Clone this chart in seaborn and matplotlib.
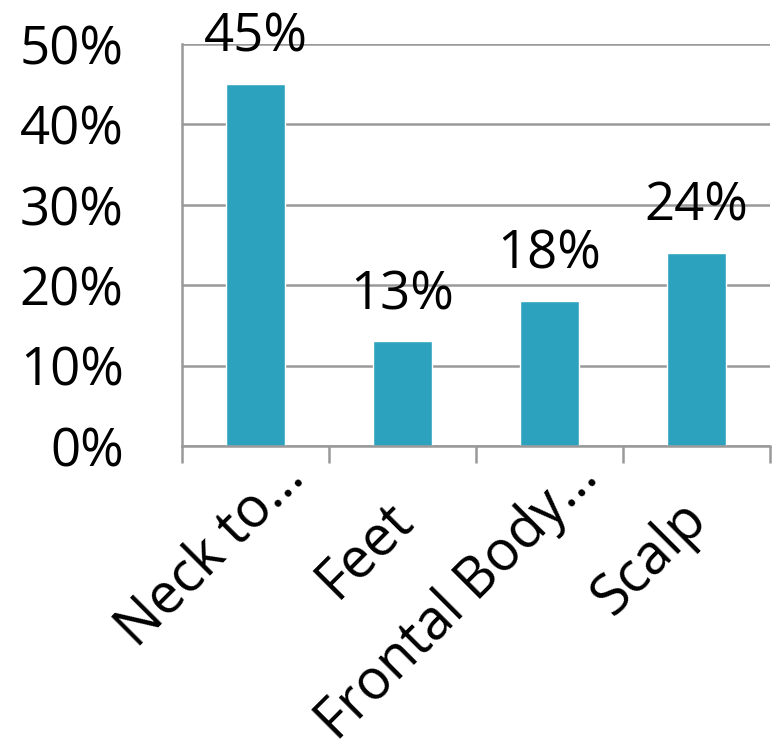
import matplotlib
matplotlib.use("Agg")
import matplotlib.pyplot as plt
import matplotlib.transforms as mtransforms
import pandas as pd
import seaborn as sns

# data
regions = ["Neck to\u2026", "Feet", "Frontal Body\u2026", "Scalp"]
shares = [45, 13, 18, 24]
ytick_vals = [0, 10, 20, 30, 40, 50]

df = pd.DataFrame({"region": regions, "share": shares})

sns.set_style("white")
plt.rcParams["font.family"] = ["Open Sans", "DejaVu Sans"]
plt.rcParams["text.color"] = "black"

fig = plt.figure(figsize=(7.73, 7.52), dpi=100)
ax = fig.add_axes([182 / 773, 1 - 446 / 752, 588 / 773, 402 / 752])

sns.barplot(data=df, x="region", y="share", color="#2da2bf", width=0.4,
            saturation=1, ax=ax)

grey = "#999999"
ax.set_ylim(0, 50)
ax.set_yticks(ytick_vals)
ax.set_yticklabels([f"{v}%" for v in ytick_vals], fontsize=38)
ax.yaxis.grid(True, color=grey, linewidth=1.8)
ax.set_axisbelow(True)
ax.set_xlim(-0.5, len(regions) - 0.5)

for side in ["top", "right"]:
    ax.spines[side].set_visible(False)
for side in ["left", "bottom"]:
    ax.spines[side].set_color(grey)
    ax.spines[side].set_linewidth(1.8)

ax.tick_params(axis="y", length=14, width=1.8, color=grey, pad=28,
               labelcolor="black")
ax.tick_params(axis="x", length=0, labelcolor="black")

# boundary tick marks between categories
ax.set_xticks([i - 0.5 for i in range(len(regions) + 1)], minor=True)
ax.tick_params(axis="x", which="minor", length=12, width=1.8, color=grey,
               direction="out", bottom=True)

ax.set_xticks(range(len(regions)))
ax.set_xticklabels(regions, fontsize=40, rotation=45, ha="right",
                   rotation_mode="anchor", va="center")
# truncated labels hang further right, like the original
for lbl in ax.get_xticklabels():
    if lbl.get_text().endswith("\u2026"):
        dx, dy = 40, -18
    else:
        dx, dy = 2, -60
    off = mtransforms.ScaledTranslation(dx / 100, dy / 100, fig.dpi_scale_trans)
    lbl.set_transform(lbl.get_transform() + off)

ax.set_xlabel("")
ax.set_ylabel("")

ax.bar_label(ax.containers[0], labels=[f"{v}%" for v in shares],
             fontsize=38, padding=14)

fig.savefig("out.png", dpi=100)
